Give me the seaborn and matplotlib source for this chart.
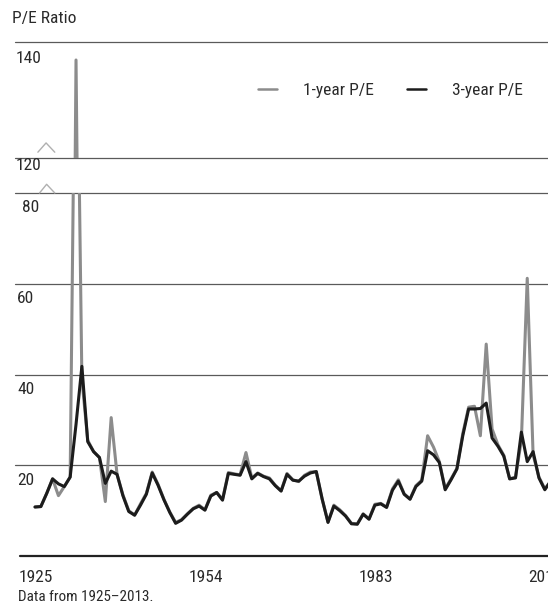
import matplotlib
matplotlib.use("Agg")
import pandas as pd
import matplotlib.pyplot as plt
from matplotlib import font_manager as fm
from matplotlib.lines import Line2D
import seaborn as sns

# data
years = list(range(1925, 2014))
pe_1yr = [10.8, 10.9, 13.8, 17.0, 13.3, 15.3, 17.4, 136.9, 39.0, 25.5,
          23.0, 21.7, 12.0, 30.5, 18.0, 13.5, 10.0, 9.0, 11.5, 13.8,
          18.5, 15.8, 12.5, 9.7, 7.4, 8.0, 9.3, 10.5, 11.2, 10.2,
          13.4, 14.0, 12.5, 18.4, 18.1, 17.9, 22.8, 17.2, 18.3, 17.6,
          17.2, 15.6, 14.4, 18.2, 16.8, 16.4, 17.8, 18.5, 18.6, 12.5,
          7.5, 11.2, 10.2, 8.9, 7.2, 7.1, 9.3, 8.2, 11.4, 11.6,
          10.8, 14.8, 16.8, 13.7, 12.6, 15.5, 16.7, 26.5, 24.0, 20.8,
          14.8, 17.0, 19.3, 27.0, 32.8, 33.0, 26.5, 46.7, 28.0, 24.5,
          22.2, 17.0, 17.4, 25.5, 61.2, 22.3, 17.4, 14.8, 16.5]
pe_3yr = [10.8, 10.9, 13.8, 17.0, 15.9, 15.3, 17.4, 29.0, 41.8, 25.2,
          23.0, 21.7, 16.0, 18.7, 18.0, 13.3, 9.8, 9.0, 11.2, 13.6,
          18.3, 15.6, 12.4, 9.6, 7.2, 7.9, 9.2, 10.4, 11.0, 10.1,
          13.2, 14.0, 12.3, 18.2, 18.0, 17.8, 20.8, 17.0, 18.2, 17.5,
          17.0, 15.5, 14.3, 18.0, 16.7, 16.5, 17.6, 18.3, 18.6, 12.6,
          7.4, 11.0, 10.0, 8.8, 7.1, 7.0, 9.2, 8.1, 11.2, 11.5,
          10.7, 14.5, 16.5, 13.6, 12.5, 15.3, 16.5, 23.2, 22.3, 20.6,
          14.6, 16.8, 19.2, 26.5, 32.4, 32.4, 32.5, 33.7, 26.0, 24.2,
          22.0, 17.0, 17.2, 27.3, 20.8, 23.0, 17.2, 14.6, 16.5]
top_ticks = [140, 120]
bottom_ticks = [80, 60, 40, 20]
x_ticks = [1925, 1954, 1983, 2012]

df = pd.DataFrame({'year': years, '1-year P/E': pe_1yr, '3-year P/E': pe_3yr})
long = df.melt(id_vars='year', var_name='series', value_name='pe')

sns.set_style('white')

# the original uses a narrow grotesque; take a condensed face if one exists
installed = {f.name for f in fm.fontManager.ttflist}
narrow = [n for n in installed if 'Condensed' in n or 'Narrow' in n]
cond_stretch = [f.name for f in fm.fontManager.ttflist
                if str(f.stretch) in ('condensed', 'semi-condensed', '75', '87')]
pick = None
for cand in ['Roboto Condensed', 'Liberation Sans Narrow', 'DejaVu Sans Condensed',
             'Noto Sans Condensed', 'Open Sans Condensed']:
    if cand in installed:
        pick = cand
        break
if pick is None and narrow:
    pick = sorted(narrow)[0]
stretch = 'normal'
if pick is None and cond_stretch:
    pick = cond_stretch[0]
    stretch = 'condensed'
if pick is None:
    pick = 'Roboto'
FS = 12.5 if pick != 'Roboto' else 11.5
plt.rcParams['font.family'] = [pick, 'DejaVu Sans']
plt.rcParams['font.stretch'] = stretch
plt.rcParams['text.color'] = '#2a2a2a'

W, H = 548, 604
fig = plt.figure(figsize=(W / 100, H / 100), dpi=100)


def px_box(x0, y0, x1, y1):
    return [x0 / W, 1 - y1 / H, (x1 - x0) / W, (y1 - y0) / H]


ax_top = fig.add_axes(px_box(15, 42, 560, 158))
ax_bot = fig.add_axes(px_box(15, 193, 560, 556))

palette = {'1-year P/E': '#8c8c8c', '3-year P/E': '#1c1c1c'}
for ax in (ax_top, ax_bot):
    sns.lineplot(data=long, x='year', y='pe', hue='series', palette=palette,
                 lw=2.2, ax=ax, legend=False)
    ax.set_xlim(1925 - 20 / 5.86, 1925 + 525 / 5.86)
    ax.set_axis_off()

ax_top.set_ylim(120, 140)
ax_bot.set_ylim(0, 80)

grid_kw = dict(color='#5a5a5a', lw=0.9, clip_on=False, zorder=0)
for v in top_ticks:
    ax_top.axhline(v, **grid_kw)
for v in bottom_ticks:
    ax_bot.axhline(v, **grid_kw)
ax_bot.axhline(0, xmin=0.01, color='#222222', lw=1.6, clip_on=False)

# y labels sit just under their gridline
lab_kw = dict(textcoords='offset pixels', fontsize=FS, va='center', ha='left')
for v in top_ticks:
    ax_top.annotate(str(v), xy=(0, v), xycoords=ax_top.get_yaxis_transform(),
                    xytext=(1, -8 if v == 120 else -17), **lab_kw)
for v in bottom_ticks:
    ax_bot.annotate(str(v), xy=(0, v), xycoords=ax_bot.get_yaxis_transform(),
                    xytext=(7 if v == 80 else 2, -15), **lab_kw)

for yr in x_ticks:
    ax_bot.annotate(str(yr), xy=(yr, 0), xycoords=ax_bot.get_xaxis_transform(),
                    xytext=(1, -22), textcoords='offset pixels', fontsize=FS,
                    ha='center', va='center', annotation_clip=False)

# axis break chevrons
ax_top.plot([0.042, 0.057, 0.073], [0.05, 0.13, 0.05], color='#b0b0b0', lw=1,
            clip_on=False, transform=ax_top.transAxes)
ax_bot.plot([0.045, 0.058, 0.073], [1.0, 1.024, 1.0], color='#b0b0b0', lw=1,
            clip_on=False, transform=ax_bot.transAxes)

handles = [Line2D([], [], color=palette[k], lw=1.8) for k in palette]
fig.legend(handles, list(palette), loc='center left',
           bbox_to_anchor=(258 / W, 1 - 90 / H), ncol=2, frameon=False,
           fontsize=FS, handlelength=1.1, handletextpad=1.5,
           columnspacing=1.9, borderpad=0, borderaxespad=0)

fig.text(12 / W, 1 - 18 / H, 'P/E Ratio', fontsize=FS, va='center', ha='left')
fig.text(18 / W, 1 - 597 / H, 'Data from 1925\u20132013.', fontsize=FS - 1.6,
         va='center', ha='left')

fig.savefig('out.png', dpi=100, facecolor='white')
